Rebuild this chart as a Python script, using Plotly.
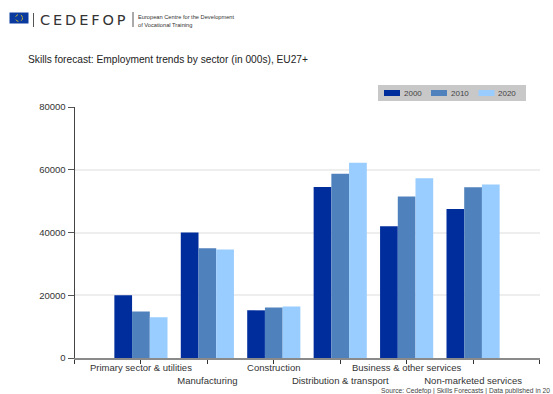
import plotly.graph_objects as go

W, H = 553, 394

sectors = ["Primary sector & utilities", "Manufacturing", "Construction",
           "Distribution & transport", "Business & other services", "Non-marketed services"]
years = ["2000", "2010", "2020"]
employment_2000 = [20000, 40000, 15200, 54500, 42000, 47500]
employment_2010 = [14800, 35000, 16100, 58700, 51500, 54400]
employment_2020 = [13000, 34600, 16400, 62200, 57300, 55300]
year_colors = ["#002D9C", "#4F81BD", "#99CCFF"]
y_ticks = [0, 20000, 40000, 60000, 80000]
positions = [1, 2, 3, 4, 5, 6]


def fx(px):
    return px / W


def fy(px):
    return 1 - px / H


FONT = "Liberation Sans, Arial, sans-serif"
fig = go.Figure()

for year, values, color in zip(years, [employment_2000, employment_2010, employment_2020], year_colors):
    fig.add_bar(x=positions, y=values, name=year, marker=dict(color=color, line_width=0),
                showlegend=False)

# Long category names alternate between two rows so they do not collide
tick_text = [""] + [s if i % 2 == 0 else " <br>" + s for i, s in enumerate(sectors)] + [""]

shapes = [
    # EU flag and logo rules
    dict(type="rect", x0=fx(9.5), x1=fx(28.5), y0=fy(23.5), y1=fy(12.5), fillcolor="#0B3A9E", line_width=0),
    dict(type="circle", x0=fx(15.5), x1=fx(22.5), y0=fy(21.5), y1=fy(14.5),
         line=dict(color="#C9B52E", width=1, dash="dot")),
    dict(type="line", x0=fx(33.5), x1=fx(33.5), y0=fy(27), y1=fy(13), line=dict(color="#555555", width=1)),
    dict(type="line", x0=fx(133), x1=fx(133), y0=fy(27), y1=fy(12), line=dict(color="#555555", width=1)),
    # Legend panel
    dict(type="rect", x0=fx(378), x1=fx(526), y0=fy(101), y1=fy(85), fillcolor="#C8C8C8", line_width=0),
]
annotations = [
    dict(x=fx(38), y=fy(20.5), text="\u2009".join("CEDEFOP"),
         font=dict(family="DejaVu Sans", size=14.5, color="#333333")),
    dict(x=fx(136), y=fy(17), text="European Centre for the Development", font=dict(family=FONT, size=5.7, color="#333333")),
    dict(x=fx(136), y=fy(25), text="of Vocational Training", font=dict(family=FONT, size=5.7, color="#333333")),
    dict(x=fx(26), y=fy(59.5), text="Skills forecast: Employment trends by sector (in 000s), EU27+",
         font=dict(family=FONT, size=10.2, color="#222222")),
    dict(x=fx(379), y=fy(390.5), text="Source: Cedefop | Skills Forecasts | Data published in 20",
         font=dict(family=FONT, size=6.7, color="#444444")),
]

# Legend swatches and labels inside the grey panel
for year, color, left in zip(years, year_colors, [384, 431, 478.5]):
    shapes.append(dict(type="rect", x0=fx(left), x1=fx(left + 16), y0=fy(96), y1=fy(90),
                       fillcolor=color, line_width=0))
    annotations.append(dict(x=fx(left + 17.5), y=fy(93), text=year, font=dict(family=FONT, size=8, color="#444444")))

for a in annotations:
    a.update(xref="paper", yref="paper", xanchor="left", yanchor="middle", showarrow=False, align="left")
for s in shapes:
    s.update(xref="paper", yref="paper", layer="above")

fig.update_layout(
    width=W, height=H,
    margin=dict(l=0, r=0, t=0, b=0),
    paper_bgcolor="white", plot_bgcolor="white",
    barmode="group", bargap=0.2, bargroupgap=0,
    shapes=shapes, annotations=annotations,
    font=dict(family=FONT, size=9.5, color="#333333"),
    xaxis=dict(domain=[fx(74.5), fx(539.5)], range=[0, 7], tickmode="array", automargin=False,
               tickvals=list(range(8)), ticktext=tick_text, ticks="outside", ticklen=4,
               tickcolor="#333333", showgrid=False, showline=True, linecolor="#8A8A8A",
               linewidth=1.5, zeroline=False, tickangle=0, ticklabelstandoff=-4),
    yaxis=dict(domain=[fy(358), fy(107)], range=[0, 80000], tickmode="array", automargin=False,
               tickvals=y_ticks, ticktext=[str(v) for v in y_ticks], ticks="outside", ticklen=6,
               tickcolor="#555555", showgrid=True, gridcolor="#EEEEEE", gridwidth=1.5,
               showline=True, linecolor="#444444", linewidth=1, zeroline=False),
)

fig.write_html("out.html", config=dict(displayModeBar=False))
